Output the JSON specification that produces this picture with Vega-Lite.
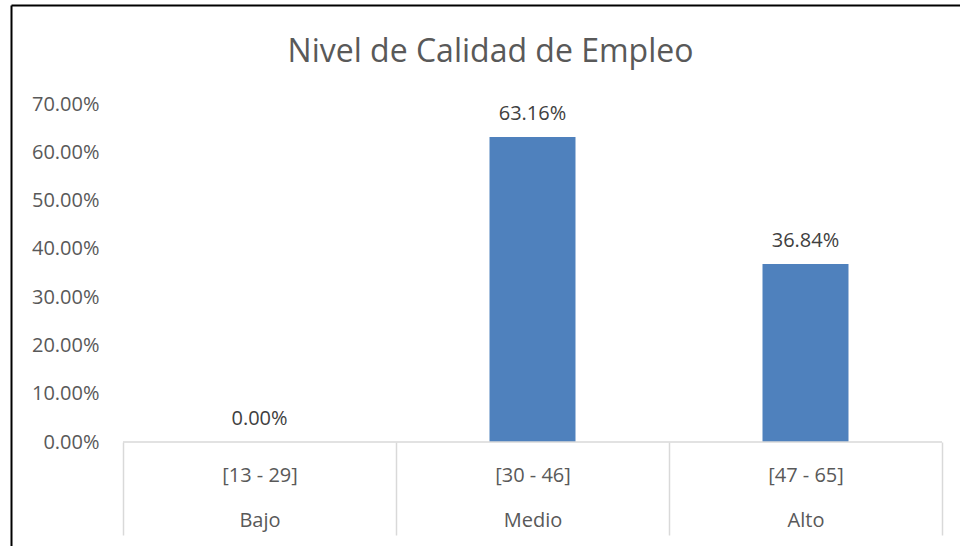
{
  "$schema": "https://vega.github.io/schema/vega-lite/v6.json",
  "width": 949,
  "height": 541,
  "autosize": {"type": "none"},
  "padding": {"left": 11, "top": 5, "right": 0, "bottom": 0},
  "background": "white",
  "title": {
    "text": "Nivel de Calidad de Empleo",
    "fontSize": 32,
    "font": "Open Sans",
    "fontWeight": "normal",
    "color": "#595959",
    "anchor": "middle",
    "frame": "group",
    "offset": -64,
    "dx": 5
  },
  "data": {
    "values": [
      {"categoria": "[13 - 29]|Bajo", "pct": 0.0},
      {"categoria": "[30 - 46]|Medio", "pct": 0.6316},
      {"categoria": "[47 - 65]|Alto", "pct": 0.3684}
    ]
  },
  "layer": [
    {
      "mark": {"type": "bar", "color": "#4F81BD", "width": {"band": 0.315}},
      "encoding": {
        "x": {
          "field": "categoria",
          "type": "nominal",
          "sort": null,
          "scale": {"paddingInner": 0, "paddingOuter": 0.2381, "align": 0.8615},
          "axis": {
            "orient": "bottom",
            "offset": -104,
            "domain": false,
            "ticks": true,
            "tickBand": "extent",
            "tickSize": 93,
            "tickColor": "#d9d9d9",
            "tickWidth": 1.5,
            "labelAngle": 0,
            "labelPadding": -70,
            "labelBaseline": "top",
            "labelLineHeight": 45,
            "labelFontSize": 20,
            "labelFont": "Open Sans",
            "labelColor": "#595959",
            "labelExpr": "split(datum.label, '|')",
            "title": null,
            "grid": false
          }
        },
        "y": {
          "field": "pct",
          "type": "quantitative",
          "scale": {"domain": [-0.21538, 0.90503], "nice": false, "zero": false},
          "axis": {
            "orient": "left",
            "values": [0, 0.1, 0.2, 0.3, 0.4, 0.5, 0.6, 0.7],
            "format": ".2%",
            "domain": true,
            "domainColor": "black",
            "domainWidth": 2,
            "ticks": false,
            "grid": false,
            "labelPadding": -88,
            "labelFontSize": 20,
            "labelFont": "Open Sans",
            "labelColor": "#595959",
            "labelBaseline": "middle",
            "title": null
          }
        }
      }
    },
    {
      "mark": {"type": "bar", "width": {"band": 1}, "fill": "transparent", "stroke": "#d9d9d9", "strokeWidth": 1.5},
      "encoding": {
        "x": {
          "field": "categoria",
          "type": "nominal",
          "sort": null,
          "axis": {
            "orient": "top",
            "domain": true,
            "domainColor": "black",
            "domainWidth": 2,
            "ticks": false,
            "labels": false,
            "grid": false,
            "title": null
          }
        },
        "y": {
          "datum": 0,
          "type": "quantitative",
          "axis": {
            "orient": "left",
            "values": [0, 0.1, 0.2, 0.3, 0.4, 0.5, 0.6, 0.7],
            "format": ".2%",
            "domain": true,
            "domainColor": "black",
            "domainWidth": 2,
            "ticks": false,
            "grid": false,
            "labelPadding": -88,
            "labelFontSize": 20,
            "labelFont": "Open Sans",
            "labelColor": "#595959",
            "labelBaseline": "middle",
            "title": null
          }
        },
        "y2": {"datum": 0}
      }
    },
    {
      "mark": {"type": "text", "dy": -23, "fontSize": 20, "font": "Open Sans", "color": "#404040", "baseline": "middle"},
      "encoding": {
        "x": {"field": "categoria", "type": "nominal", "sort": null, "axis": null},
        "y": {
          "field": "pct",
          "type": "quantitative",
          "axis": {
            "orient": "left",
            "values": [0, 0.1, 0.2, 0.3, 0.4, 0.5, 0.6, 0.7],
            "format": ".2%",
            "domain": true,
            "domainColor": "black",
            "domainWidth": 2,
            "ticks": false,
            "grid": false,
            "labelPadding": -88,
            "labelFontSize": 20,
            "labelFont": "Open Sans",
            "labelColor": "#595959",
            "labelBaseline": "middle",
            "title": null
          }
        },
        "text": {"field": "pct", "type": "quantitative", "format": ".2%"}
      }
    }
  ],
  "resolve": {"axis": {"x": "independent"}},
  "config": {"font": "Open Sans", "view": {"stroke": null}}
}
